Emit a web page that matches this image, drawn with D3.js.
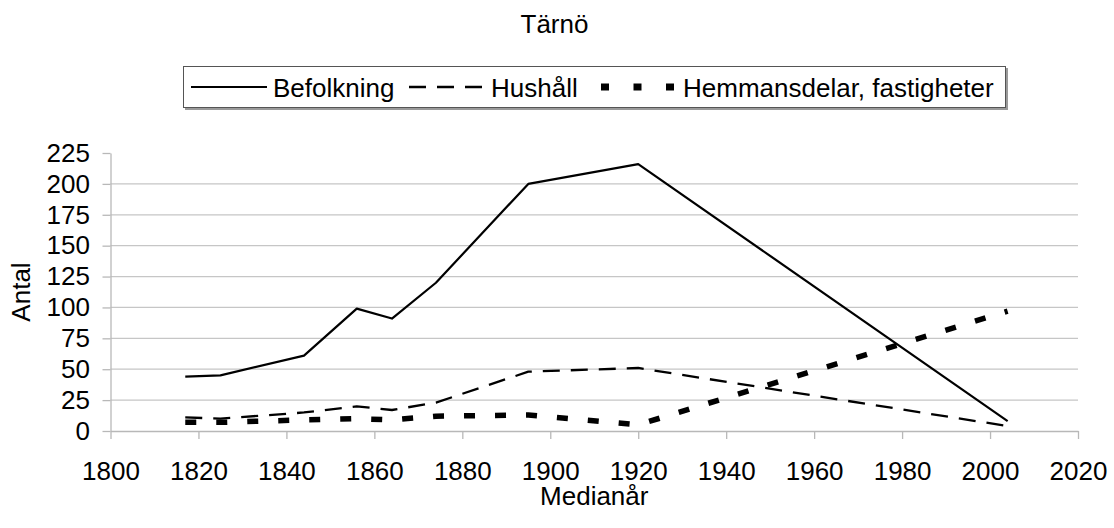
<!DOCTYPE html>
<html>
<head>
<meta charset="utf-8">
<script src="https://cdn.jsdelivr.net/npm/d3@7"></script>
<style>
  body { margin: 0; background: #fff; }
  text { font-family: "Liberation Sans", Arial, sans-serif; fill: #000; }
</style>
</head>
<body>
<div id="chart"></div>
<script>
// Tärnö: befolkning, hushåll och hemmansdelar per medianår
const years = [1817, 1825, 1844, 1856, 1864, 1874, 1895, 1920, 2004];
const befolkning = [44, 45, 61, 99, 91, 120, 200, 216, 8];
const hushall = [11, 10, 15, 20, 17, 23, 48, 51, 4];
const hemmansdelar = [7, 7, 9, 10, 9, 12, 13, 5, 97];

const seriesNames = ["Befolkning", "Hushåll", "Hemmansdelar, fastigheter"];
const xTicks = [1800, 1820, 1840, 1860, 1880, 1900, 1920, 1940, 1960, 1980, 2000, 2020];
const yTicks = [0, 25, 50, 75, 100, 125, 150, 175, 200, 225];

const width = 1114, height = 528;
const fontSize = 26;

// line styles per series
const styles = [
  { width: 2.2, dash: null },
  { width: 2.3, dash: "17,11" },
  { width: 5.5, dash: "11,20" }
];

const svg = d3.select("#chart").append("svg")
  .attr("width", width)
  .attr("height", height);

svg.append("rect").attr("width", width).attr("height", height).attr("fill", "#fff");

const x = d3.scaleLinear().domain([1800, 2020]).range([110.5, 1078]);
const y = d3.scaleLinear().domain([0, 225]).range([431, 153]);

// gridlines
svg.append("g")
  .selectAll("line")
  .data(yTicks.filter(d => d > 0 && d < 225))
  .enter().append("line")
  .attr("x1", x(1800)).attr("x2", x(2020))
  .attr("y1", d => y(d)).attr("y2", d => y(d))
  .attr("stroke", "#c6c6c6")
  .attr("stroke-width", 1.2);

// x axis
const xAxis = svg.append("g")
  .attr("transform", "translate(0," + y(0) + ")")
  .call(d3.axisBottom(x)
    .tickValues(xTicks)
    .tickFormat(d3.format("d"))
    .tickSizeInner(8)
    .tickSizeOuter(0)
    .tickPadding(23));

// y axis
const yAxis = svg.append("g")
  .attr("transform", "translate(" + x(1800) + ",0)")
  .call(d3.axisLeft(y)
    .tickValues(yTicks)
    .tickSizeInner(8)
    .tickSizeOuter(0)
    .tickPadding(12.5));

[xAxis, yAxis].forEach(a => {
  a.select(".domain").attr("stroke", "#b8b8b8").attr("stroke-width", 1.3);
  a.selectAll(".tick line").attr("stroke", "#b8b8b8").attr("stroke-width", 1.3);
  a.selectAll(".tick text")
    .style("font-family", '"Liberation Sans", Arial, sans-serif')
    .style("font-size", fontSize + "px")
    .attr("fill", "#000");
});

// series lines
const allSeries = [befolkning, hushall, hemmansdelar];
const line = d3.line()
  .x((d, i) => x(years[i]))
  .y(d => y(d));

allSeries.forEach((values, k) => {
  svg.append("path")
    .datum(values)
    .attr("d", line)
    .attr("fill", "none")
    .attr("stroke", "#000")
    .attr("stroke-width", styles[k].width)
    .attr("stroke-dasharray", styles[k].dash)
    .attr("stroke-linejoin", "round");
});

// title
svg.append("text")
  .attr("x", 554.5).attr("y", 33)
  .attr("text-anchor", "middle")
  .style("font-size", fontSize + "px")
  .text("Tärnö");

// axis titles
svg.append("text")
  .attr("x", (x(1800) + x(2020)) / 2).attr("y", 505)
  .attr("text-anchor", "middle")
  .style("font-size", fontSize + "px")
  .text("Medianår");

svg.append("text")
  .attr("transform", "translate(30," + (y(0) + y(225)) / 2 + ") rotate(-90)")
  .attr("text-anchor", "middle")
  .style("font-size", fontSize + "px")
  .text("Antal");

// legend
const legend = svg.append("g");
legend.append("rect")
  .attr("x", 185).attr("y", 68).attr("width", 823).attr("height", 42)
  .attr("fill", "#9a9a9a");
legend.append("rect")
  .attr("x", 183.5).attr("y", 66.5).attr("width", 822).attr("height", 41)
  .attr("fill", "#fff")
  .attr("stroke", "#555")
  .attr("stroke-width", 1);

const legendStart = [191, 409, 601];
seriesNames.forEach((name, k) => {
  const lx = legendStart[k];
  legend.append("line")
    .attr("x1", lx).attr("x2", lx + 76)
    .attr("y1", 87).attr("y2", 87)
    .attr("stroke", "#000")
    .attr("stroke-width", k === 2 ? 7 : styles[k].width)
    .attr("stroke-dasharray", k === 2 ? "8,24.5" : styles[k].dash);
  legend.append("text")
    .attr("x", lx + 82).attr("y", 97)
    .style("font-size", fontSize + "px")
    .text(name);
});
</script>
</body>
</html>
